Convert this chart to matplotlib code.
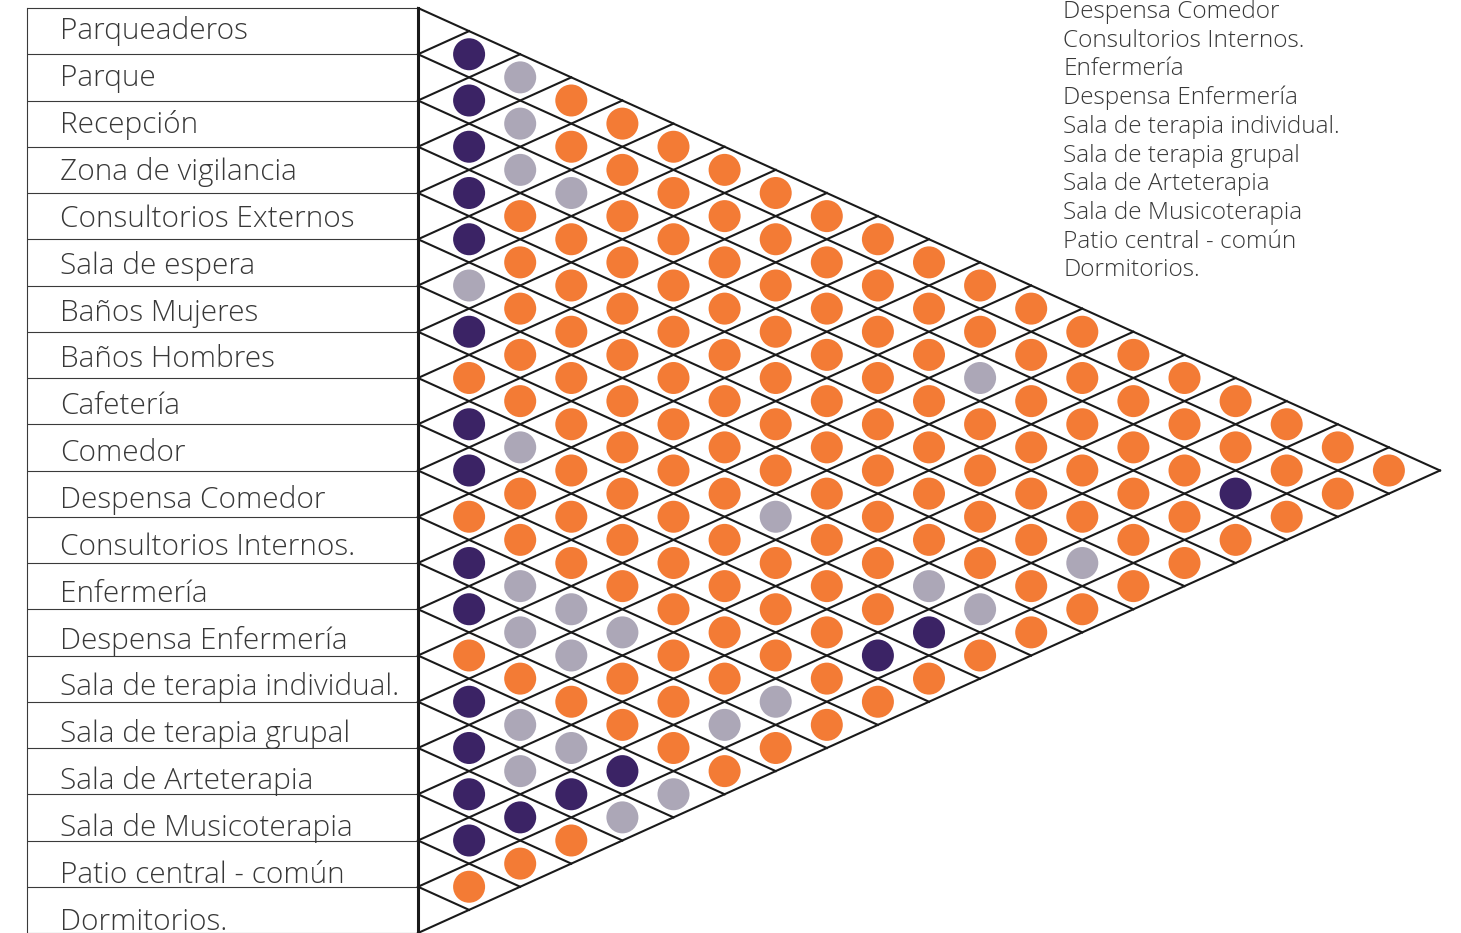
import matplotlib
matplotlib.use("Agg")
import matplotlib.pyplot as plt
from matplotlib.patches import Circle

# Spaces of the facility, top to bottom
spaces = [
    "Parqueaderos", "Parque", "Recepción", "Zona de vigilancia",
    "Consultorios Externos", "Sala de espera", "Baños Mujeres",
    "Baños Hombres", "Cafetería", "Comedor", "Despensa Comedor",
    "Consultorios Internos.", "Enfermería", "Despensa Enfermería",
    "Sala de terapia individual.", "Sala de terapia grupal",
    "Sala de Arteterapia", "Sala de Musicoterapia",
    "Patio central - común", "Dormitorios.",
]

# Relationship of row i with every later space j (j = i+1 .. 19)
# D = direct relation, G = no relation, O = indirect relation
relations = [
    "DGOOOOOOOOOOOOOOOOO",
    "DGOOOOOOOOOOOOOOOO",
    "DGGOOOOOOOGOOOODO",
    "DOOOOOOOOOOOOOOO",
    "DOOOOOOOOOOOOOO",
    "GOOOOOOOOOOOGO",
    "DOOOOOOOOOOOO",
    "OOOOOOGOOGGO",
    "DGOOOOOOODO",
    "DOOOOOOODO",
    "OOOOOOOOO",
    "DGGGOOGO",
    "DGGOOGO",
    "OOOOOO",
    "DGGDG",
    "DGDG",
    "DDO",
    "DO",
    "O",
]

# Side list of spaces
side_list = [
    "Despensa Comedor", "Consultorios Internos.", "Enfermería",
    "Despensa Enfermería", "Sala de terapia individual.",
    "Sala de terapia grupal", "Sala de Arteterapia",
    "Sala de Musicoterapia", "Patio central - común", "Dormitorios.",
]

colors = {"D": "#3b2365", "G": "#aca7b7", "O": "#f37b35"}

W, H = 1461, 933
fig = plt.figure(figsize=(W / 100, H / 100), dpi=100)
ax = fig.add_axes([0, 0, 1, 1])
ax.set_xlim(0, W)
ax.set_ylim(H, 0)
ax.axis("off")

n = len(spaces)
top = 8.0
row_h = 46.25
half = row_h / 2
x_left = 27.0
x0 = 418.0
dx = 51.1

font = dict(family=["Open Sans", "DejaVu Sans"], fontweight="light", color="#383838")

# Label table
for m in range(n + 1):
    y = top + row_h * m
    ax.plot([x_left, x0], [y, y], color="#3a3a3a", lw=0.8, solid_capstyle="butt")
ax.plot([x_left, x_left], [top, H], color="#3a3a3a", lw=0.8)
ax.plot([x0, x0], [top, H], color="#1a1a1a", lw=2.2)

for i, name in enumerate(spaces):
    ax.text(60, 39.5 + 46.85 * i, name, fontsize=21.4, va="baseline", ha="left", **font)

# Diamond lattice
for m in range(n + 1):
    yb = top + row_h * m
    # descending line
    t = n - m
    ax.plot([x0, x0 + dx * t], [yb, yb + half * t], color="#1a1a1a", lw=1.5)
    # ascending line
    t = m
    ax.plot([x0, x0 + dx * t], [yb, yb - half * t], color="#1a1a1a", lw=1.5)

# Relationship dots
for i, row in enumerate(relations):
    for off, code in enumerate(row):
        j = i + 1 + off
        k = j - i
        cx = x0 + dx * k
        cy = top + half * (i + j + 1)
        ax.add_patch(Circle((cx, cy), 16, facecolor=colors[code], edgecolor="none", zorder=3))

# Side list
for r, name in enumerate(side_list):
    ax.text(1063, 18 + 28.7 * r, name, fontsize=17.6, va="baseline", ha="left", **font)

fig.savefig("out.png", dpi=100)
